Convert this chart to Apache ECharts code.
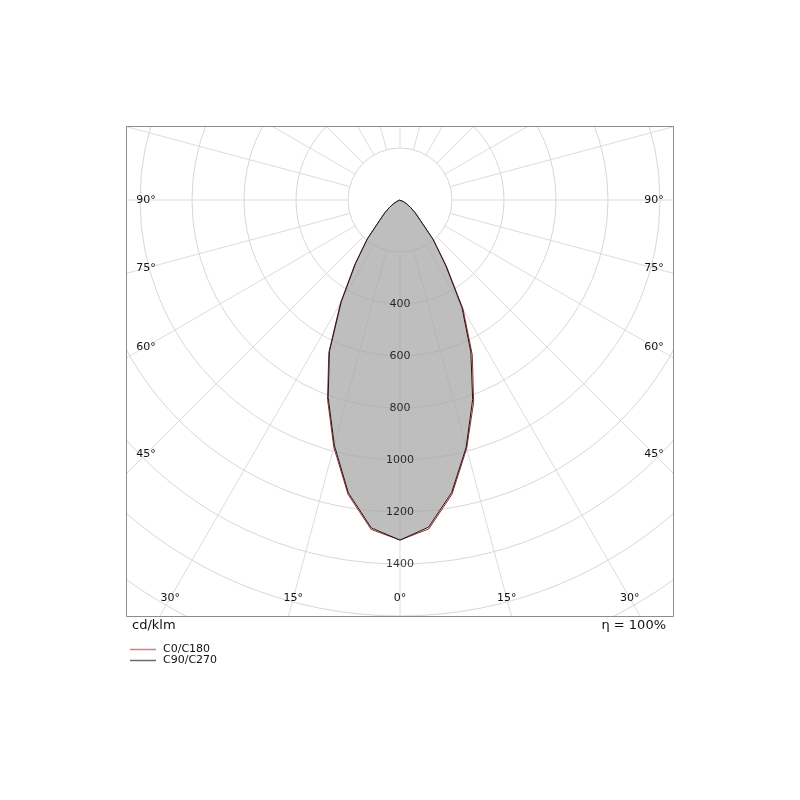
<!DOCTYPE html>
<html>
<head>
<meta charset="utf-8">
<script src="https://cdn.jsdelivr.net/npm/echarts@6/dist/echarts.min.js"></script>
<style>
  html, body { margin: 0; padding: 0; background: #fff; }
  #chart { width: 800px; height: 800px; }
</style>
</head>
<body>
<div id="chart"></div>
<script>
(function() {
  // gamma angles (deg from nadir) and intensities in cd/klm
  var gammas = [0, 5, 10, 15, 20, 25, 30, 35, 40, 45, 50, 55, 60, 65, 70, 75, 80, 85, 90];
  var c0   = [1308, 1272, 1150, 984, 815, 648, 458, 303, 197, 112, 76, 50, 30, 14, 6, 2, 0, 0, 0];
  var c180 = [1308, 1270, 1150, 990, 828, 658, 485, 312, 200, 112, 76, 50, 30, 14, 6, 2, 0, 0, 0];
  var c90  = [1308, 1266, 1144, 976, 808, 642, 452, 298, 195, 110, 75, 49, 29, 14, 6, 2, 0, 0, 0];
  var c270 = [1308, 1263, 1143, 984, 817, 645, 476, 305, 197, 110, 75, 49, 29, 14, 6, 2, 0, 0, 0];
  var radiusLabels = [400, 600, 800, 1000, 1200, 1400];
  var sideTicks = [90, 75, 60, 45];
  var bottomTicks = [30, 15, 0];

  var font = 'DejaVu Sans, Verdana, sans-serif';
  var cx = 400, cy = 200;
  var box = { left: 126, top: 126, right: 674, bottom: 617 };

  function plane(left, right) {
    var pts = [];
    for (var i = 0; i < gammas.length; i++) pts.push([left[i], gammas[i]]);
    for (var j = gammas.length - 1; j >= 0; j--) pts.push([right[j], 360 - gammas[j]]);
    return pts;
  }

  var graphics = [
    { type: 'rect', z: 100, shape: { x: 0, y: 0, width: 800, height: box.top }, style: { fill: '#fff' } },
    { type: 'rect', z: 100, shape: { x: 0, y: box.bottom, width: 800, height: 800 - box.bottom }, style: { fill: '#fff' } },
    { type: 'rect', z: 100, shape: { x: 0, y: 0, width: box.left, height: 800 }, style: { fill: '#fff' } },
    { type: 'rect', z: 100, shape: { x: box.right, y: 0, width: 800 - box.right, height: 800 }, style: { fill: '#fff' } },
    { type: 'rect', z: 150, shape: { x: box.left + 0.5, y: box.top + 0.5, width: box.right - box.left - 1, height: box.bottom - box.top - 1 },
      style: { fill: null, stroke: '#8c8c8c', lineWidth: 1 } },
    { type: 'text', z: 200, x: 132, y: 626, style: { text: 'cd/klm', font: '13px ' + font, fill: '#111', align: 'left', verticalAlign: 'middle' } },
    { type: 'text', z: 200, x: 666, y: 626, style: { text: 'η = 100%', font: '13px ' + font, fill: '#111', align: 'right', verticalAlign: 'middle' } }
  ];

  function tickText(txt, x, y) {
    graphics.push({ type: 'text', z: 200, x: x, y: y,
      style: { text: txt, font: '11px ' + font, fill: '#111', align: 'center', verticalAlign: 'middle' } });
  }
  var sideX = 20, bottomY = box.bottom - 19;
  sideTicks.forEach(function(a) {
    var dy = a === 90 ? 0 : (cx - box.left - sideX) / Math.tan(a * Math.PI / 180);
    tickText(a + '°', box.left + sideX, cy + dy);
    tickText(a + '°', box.right - sideX, cy + dy);
  });
  bottomTicks.forEach(function(a) {
    var dx = (bottomY - cy) * Math.tan(a * Math.PI / 180);
    tickText(a + '°', cx - dx, bottomY);
    if (a !== 0) tickText(a + '°', cx + dx, bottomY);
  });

  var chart = echarts.init(document.getElementById('chart'), null, { renderer: 'canvas' });
  chart.setOption({
    animation: false,
    backgroundColor: '#fff',
    polar: [
      { center: [cx, cy], radius: [52, 520] },
      { center: [cx, cy], radius: [0, 520] }
    ],
    angleAxis: [
      {
        polarIndex: 0, type: 'value', min: 0, max: 360, interval: 15, startAngle: 270, clockwise: true,
        axisLine: { show: false }, axisTick: { show: false }, axisLabel: { show: false },
        splitLine: { show: true, lineStyle: { color: '#dcdcdc', width: 1 } }
      },
      { polarIndex: 1, type: 'value', min: 0, max: 360, startAngle: 270, clockwise: true, show: false }
    ],
    radiusAxis: [
      {
        polarIndex: 0, type: 'value', min: 200, max: 2000, interval: 200,
        axisLine: { show: false }, axisTick: { show: false }, axisLabel: { show: false },
        splitLine: { show: true, lineStyle: { color: '#d8d8d8', width: 1 } }
      },
      { polarIndex: 1, type: 'value', min: 0, max: 2000, show: false }
    ],
    legend: {
      z: 200, orient: 'vertical', left: 130, top: 644, padding: 0, itemGap: 0,
      icon: 'rect', itemWidth: 26, itemHeight: 1.5, selectedMode: false,
      textStyle: { fontSize: 11, lineHeight: 11, color: '#111', fontFamily: font, padding: [0, 0, 0, 2] },
      data: [
        { name: 'C0/C180', itemStyle: { color: '#c98585' } },
        { name: 'C90/C270', itemStyle: { color: '#6a6a6a' } }
      ]
    },
    graphic: { elements: graphics },
    series: [
      {
        name: 'C0/C180', type: 'line', coordinateSystem: 'polar', polarIndex: 1,
        data: plane(c0, c180), showSymbol: false, symbol: 'none', clip: false,
        lineStyle: { color: '#a0282a', width: 1 }, itemStyle: { color: '#a0282a' }, z: 3
      },
      {
        name: 'C90/C270', type: 'line', coordinateSystem: 'polar', polarIndex: 1,
        data: plane(c90, c270), showSymbol: false, symbol: 'none', clip: false,
        lineStyle: { color: '#1a1a1a', width: 1 }, itemStyle: { color: '#1a1a1a' },
        areaStyle: { color: 'rgb(165,165,165)', opacity: 0.72, origin: 'start' }, z: 4
      },
      {
        type: 'scatter', coordinateSystem: 'polar', polarIndex: 1, symbolSize: 0, z: 5,
        data: radiusLabels.map(function(v) { return [v, 0]; }),
        label: {
          show: true, position: 'inside', color: '#000', fontSize: 11, fontFamily: font,
          formatter: function(p) { return String(p.value[0]); }
        },
        silent: true
      }
    ]
  });
})();
</script>
</body>
</html>
